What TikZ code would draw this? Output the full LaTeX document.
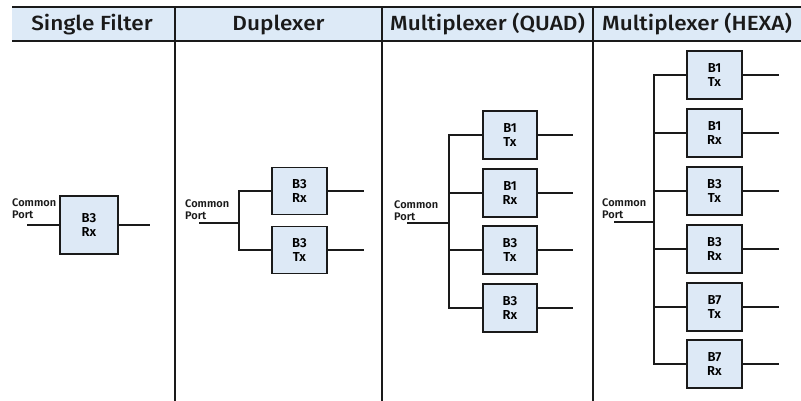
\documentclass[tikz,border=0pt]{standalone}
\usepackage{fontspec}
\setmainfont{Fira Sans}[BoldFont={* Medium}]
\newfontfamily\hdrfont{Fira Sans}[FakeStretch=1.1, BoldFont={* Medium}]
\newfontfamily\boxfont{Fira Sans}[BoldFont={* SemiBold}]
\definecolor{hdrfill}{HTML}{DDEAF7}
\definecolor{boxfill}{HTML}{DDE9F6}
\definecolor{ink}{HTML}{1A1A1A}
\tikzset{
  filt/.style={draw=ink, fill=boxfill, line width=1.6pt, minimum width=55pt, minimum height=48pt,
    inner sep=0pt, align=center, font=\boxfont\fontsize{13}{13.5}\selectfont\bfseries},
  hdr/.style={font=\hdrfont\fontsize{20.5}{22}\selectfont\bfseries, text=ink, inner sep=0pt, anchor=base},
  lbl/.style={font=\boxfont\fontsize{11}{12}\selectfont\bfseries, text=ink, align=left, inner sep=0pt, anchor=south west},
  wire/.style={draw=ink, line width=1.3pt},
  rule/.style={draw=ink, line width=1.3pt}
}
\begin{document}
\begin{tikzpicture}[x=1pt, y=-1pt]
\useasboundingbox (0,0) rectangle (801,401);
% header
\fill[hdrfill] (12,7) rectangle (801,41);
\draw[rule] (12,7) -- (801,7);
\draw[rule] (12,41) -- (801,41);
\foreach \x in {175,382,593} \draw[rule] (\x,7) -- (\x,401);
\node[hdr] (h1) at (92,30.5) {Single Filter};
\node[hdr] (h2) at (278.5,30.5) {Duplexer};
\node[hdr] (h3) at (487.5,30.5) {Multiplexer (QUAD)};
\node[hdr] (h4) at (697,30.5) {Multiplexer (HEXA)};

% Single filter
\node[filt, minimum width=58pt, minimum height=58pt] (s1) at (89,225) {B3\\Rx};
\coordinate (sp) at (27,225);
\coordinate (so) at (150,225);
\node[lbl] (sl) at (12,219) {Common\\Port};
\draw[wire] (sp) -- (s1.west);
\draw[wire] (s1.east) -- (so);

% Duplexer
\node[filt, minimum height=47pt] (d1) at (299.5,191) {B3\\Rx};
\node[filt, minimum height=47pt] (d2) at (299.5,250) {B3\\Tx};
\coordinate (dbus) at (239,223);
\coordinate (dp) at (199,223);
\node[lbl] (dl) at (185,220) {Common\\Port};
\draw[wire] (d1.west) -| (dbus) |- (d2.west);
\draw[wire] (dp) -- (dbus);
\foreach \n in {d1,d2} \draw[wire] (\n.east) -- ++(36,0) coordinate (\n o);

% Quad
\node[filt, minimum width=54pt] (q1) at (510,135) {B1\\Tx};
\node[filt, minimum width=54pt] (q2) at (510,193) {B1\\Rx};
\node[filt, minimum width=54pt] (q3) at (510,250) {B3\\Tx};
\node[filt, minimum width=54pt] (q4) at (510,308) {B3\\Rx};
\coordinate (qbus) at (449,223);
\coordinate (qp) at (407,223);
\node[lbl] (ql) at (394,221) {Common\\Port};
\draw[wire] (q1.west) -| (qbus) |- (q4.west);
\foreach \n in {q2,q3} \draw[wire] (\n.west) -- (\n.west -| qbus);
\draw[wire] (qp) -- (qbus);
\foreach \n in {q1,q2,q3,q4} \draw[wire] (\n.east) -- ++(35,0) coordinate (\n o);

% Hexa
\node[filt] (x1) at (714.5,75) {B1\\Tx};
\node[filt] (x2) at (714.5,133) {B1\\Rx};
\node[filt] (x3) at (714.5,191) {B3\\Tx};
\node[filt] (x4) at (714.5,249) {B3\\Rx};
\node[filt] (x5) at (714.5,307) {B7\\Tx};
\node[filt] (x6) at (714.5,364) {B7\\Rx};
\coordinate (xbus) at (654,222);
\coordinate (xp) at (614,222);
\node[lbl] (xl) at (602,219) {Common\\Port};
\draw[wire] (x1.west) -| (xbus) |- (x6.west);
\foreach \n in {x2,x3,x4,x5} \draw[wire] (\n.west) -- (\n.west -| xbus);
\draw[wire] (xp) -- (xbus);
\foreach \n in {x1,x2,x3,x4,x5,x6} \draw[wire] (\n.east) -- ++(36,0) coordinate (\n o);
\end{tikzpicture}
\end{document}
